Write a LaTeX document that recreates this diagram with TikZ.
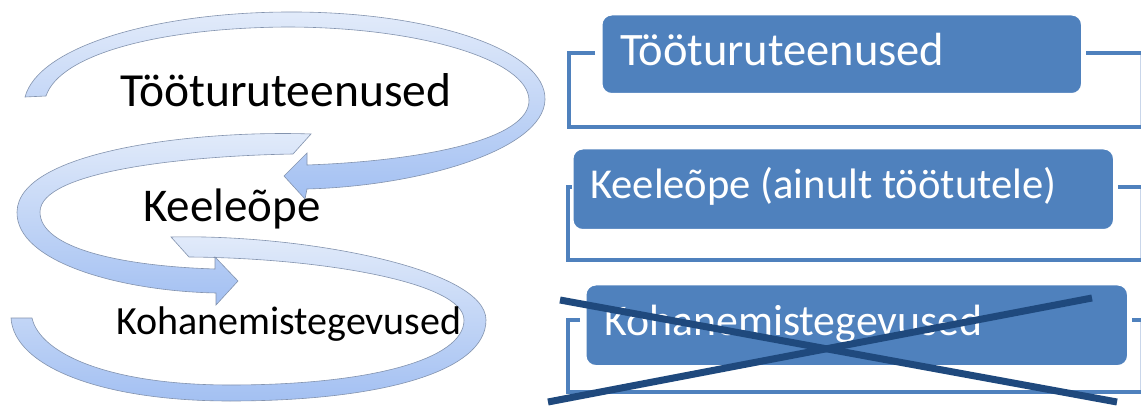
\documentclass[tikz,border=0pt]{standalone}
\usepackage{fontspec}
\setmainfont{Carlito}
\definecolor{boxblue}{HTML}{4F81BD}
\definecolor{crossblue}{HTML}{1F497D}
\definecolor{ribtop}{HTML}{E2EBFA}
\definecolor{ribbot}{HTML}{A3C0F2}
\definecolor{ribedge}{HTML}{8393AE}
\definecolor{thinedge}{HTML}{C9D6EA}
\begin{document}
\begin{tikzpicture}[x=1pt,y=-1pt,
  ribbon/.style={draw=ribedge, line width=0.6pt, top color=ribtop, bottom color=ribbot},
  bluebox/.style={rounded corners=10pt, fill=boxblue, draw=white, line width=1.5pt, anchor=north west, inner sep=0pt},
  boxtext/.style={anchor=base west, inner sep=0pt, text=white},
  lefttext/.style={anchor=base west, inner sep=0pt, text=black},
  bracket/.style={draw=boxblue, line width=3.5pt},
  crossline/.style={draw=crossblue, line width=7pt}]
\useasboundingbox (0,0) rectangle (1141,406);
\fill[white] (0,0) rectangle (1141,406);

% ---- left: S-shaped ribbon arrows ----
% loop 3 (bottom)
\path[ribbon] (171,237) .. controls (300,234) and (486,268) .. (486,320)
  .. controls (486,372) and (380,401) .. (230,401)
  .. controls (100,401) and (14,366) .. (11,318)
  -- (32,318)
  .. controls (40,354) and (110,385) .. (230,385)
  .. controls (368,385) and (464,360) .. (464,320)
  .. controls (464,282) and (320,258) .. (189,257) -- cycle;
% loop 2 (middle)
\path[ribbon] (311,134) .. controls (200,130) and (18,150) .. (17,212)
  .. controls (16,262) and (120,291) .. (216,293)
  -- (216,305) -- (238,281) -- (215,257) -- (215,269)
  .. controls (120,266) and (40,248) .. (40,212)
  .. controls (40,172) and (180,156) .. (293,154) -- cycle;
% loop 1 (top)
\path[ribbon] (25,97) .. controls (38,48) and (150,13) .. (286,12)
  .. controls (430,11) and (547,50) .. (545,100)
  .. controls (543,150) and (420,186) .. (307,189)
  -- (305,199) -- (284,176) -- (307,153) -- (307,165)
  .. controls (420,161) and (530,140) .. (529,100)
  .. controls (528,60) and (420,27) .. (286,27)
  .. controls (160,28) and (60,54) .. (46,96) -- cycle;

\node[lefttext, font=\fontsize{47.5}{56}\selectfont] (lt1) at (120,107) {Tööturuteenused};
\node[lefttext, font=\fontsize{47}{56}\selectfont] (lt2) at (143,222) {Keeleõpe};
\node[lefttext, font=\fontsize{40}{48}\selectfont] (lt3) at (116,334) {Kohanemistegevused};

% ---- right: brackets ----
\path[bracket] (595,53) -- (569,53) -- (569,127) -- (1143,127);
\path[bracket] (1086,53) -- (1143,53);
\draw[thinedge, line width=0.8pt] (1140,55) -- (1140,125);
\path[bracket] (575,187) -- (568,187) -- (568,260) -- (1143,260);
\path[bracket] (1118,187) -- (1143,187);
\draw[thinedge, line width=0.8pt] (1140,189) -- (1140,258);
\path[bracket] (580,320) -- (568,320) -- (568,392) -- (1143,392);
\path[bracket] (1132,320) -- (1143,320);
\draw[thinedge, line width=0.8pt] (1140,322) -- (1140,390);

% ---- right: boxes ----
\node[bluebox, minimum width=480pt, minimum height=79pt] (b1) at (601,14) {};
\node[boxtext, font=\fontsize{46.5}{54}\selectfont] (bt1) at (620,66) {Tööturuteenused};
\node[bluebox, minimum width=541pt, minimum height=81pt] (b2) at (572,148) {};
\node[boxtext, font=\fontsize{42.6}{50}\selectfont] (bt2) at (590,199) {Keeleõpe (ainult töötutele)};
\node[bluebox, minimum width=542pt, minimum height=81pt] (b3) at (585,284) {};
\node[boxtext, font=\fontsize{43.8}{52}\selectfont] (bt3) at (604,335) {Kohanemistegevused};

% ---- cross ----
\coordinate (ca1) at (560,300);
\coordinate (ca2) at (1117,402);
\coordinate (cb1) at (548,402);
\coordinate (cb2) at (1092,298);
\path[crossline] (ca1) -- (ca2);
\path[crossline] (cb1) -- (cb2);
\end{tikzpicture}
\end{document}
